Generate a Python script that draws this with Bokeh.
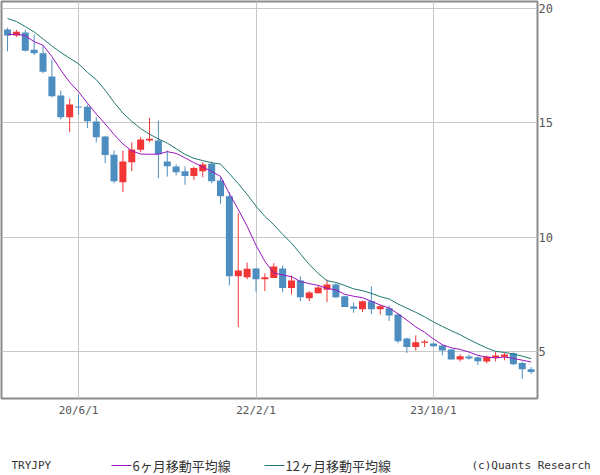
from bokeh.plotting import figure
from bokeh.models import Range1d, FixedTicker, ColumnDataSource
from bokeh.layouts import column
from bokeh.embed import file_html
from bokeh.resources import INLINE
from bokeh.core.properties import value
import pandas as pd

# ---- data (monthly TRYJPY candles, 2019/10 .. 2024/9) ----
months = [str(p) for p in pd.period_range("2019-10", periods=60, freq="M")]

opens = [19.08, 18.82, 18.95, 18.20, 18.05, 17.03, 16.20, 15.25, 15.72, 15.71,
         15.06, 14.40, 13.61, 12.40, 13.28, 13.82, 14.23, 14.23, 13.31, 13.09,
         12.88, 12.67, 12.88, 13.21, 12.48, 11.79, 8.29, 8.25, 8.63, 8.16,
         8.21, 8.63, 7.77, 8.10, 7.33, 7.55, 7.70, 7.93, 7.41, 6.97,
         6.84, 7.19, 6.84, 6.89, 6.62, 5.56, 5.19, 5.38, 5.35, 5.26,
         5.08, 4.65, 4.78, 4.74, 4.56, 4.71, 4.77, 4.92, 4.49, 4.22]
highs = [19.16, 19.07, 19.07, 18.85, 18.38, 17.77, 16.41, 16.05, 16.24, 15.80,
         15.25, 14.42, 13.79, 13.79, 14.15, 14.37, 15.22, 15.10, 13.79, 13.18,
         13.10, 13.09, 13.28, 13.31, 12.62, 11.97, 11.05, 8.89, 8.63, 8.42,
         8.86, 8.76, 8.32, 8.28, 7.64, 7.89, 8.14, 7.99, 7.41, 7.13,
         7.23, 7.84, 7.04, 7.01, 6.65, 5.60, 5.70, 5.51, 5.39, 5.31,
         5.10, 4.87, 4.87, 4.78, 4.82, 4.98, 4.93, 4.96, 4.56, 4.31]
lows = [18.13, 18.75, 18.12, 17.97, 17.17, 16.12, 15.15, 14.59, 15.35, 14.77,
        14.15, 13.24, 12.36, 11.97, 12.89, 13.72, 14.15, 12.58, 12.65, 12.70,
        12.29, 12.51, 12.62, 12.36, 11.46, 7.89, 6.06, 8.16, 7.62, 7.64,
        8.21, 7.59, 7.49, 7.20, 7.20, 7.55, 7.16, 7.33, 6.94, 6.69,
        6.72, 6.64, 6.62, 6.33, 5.36, 4.93, 5.04, 5.19, 5.19, 4.83,
        4.65, 4.56, 4.64, 4.40, 4.48, 4.56, 4.61, 4.41, 3.80, 4.01]
closes = [18.82, 18.99, 18.16, 18.05, 17.24, 16.16, 15.25, 15.80, 15.67, 15.07,
          14.37, 13.59, 12.45, 13.31, 13.83, 14.27, 14.30, 13.63, 13.10, 12.84,
          12.67, 13.02, 13.18, 12.45, 11.79, 8.29, 8.54, 8.62, 8.16, 8.25,
          8.72, 7.77, 8.10, 7.37, 7.58, 7.80, 7.93, 7.37, 6.94, 6.87,
          7.19, 6.84, 6.98, 6.57, 5.45, 5.19, 5.40, 5.43, 5.23, 5.04,
          4.65, 4.79, 4.69, 4.57, 4.77, 4.82, 4.87, 4.44, 4.22, 4.10]
# closes of the 11 months before the first candle (2018/11 .. 2019/9), estimated
# so that the moving averages start where the reference draws them
pre_closes = [20.6, 20.8, 20.9, 20.9, 19.8, 18.7, 18.8, 18.6, 19.6, 18.2, 19.1]

tick_months = ["2020-06", "2022-02", "2023-10"]
tick_labels = ["20/6/1", "22/2/1", "23/10/1"]
y_ticks = [5, 10, 15, 20]

symbol = "TRYJPY"
ma_labels = ["6ヶ月移動平均線", "12ヶ月移動平均線"]
credit = "(c)Quants Research"

# ---- styling ----
UP = "#f23535"
DOWN = "#4d8dc0"
MA6_COLOR = "#9a16bf"
MA12_COLOR = "#1f776f"
GRID = "#c8c8c8"
FRAME = "#8c8c8c"
MONO = "DejaVu Sans Mono"
CJK = "Noto Sans CJK JP"

idx = list(range(len(months)))
all_c = pre_closes + closes
npre = len(pre_closes)
ma6 = [sum(all_c[i + npre - 5:i + npre + 1]) / 6 for i in idx]
ma12 = [sum(all_c[i + npre - 11:i + npre + 1]) / 12 for i in idx]

colors = [UP if c >= o else DOWN for o, c in zip(opens, closes)]
src = ColumnDataSource(dict(
    x=idx,
    top=[max(o, c) for o, c in zip(opens, closes)],
    bottom=[min(o, c) for o, c in zip(opens, closes)],
    high=highs, low=lows, color=colors,
))

p = figure(width=600, height=430, output_backend="svg", toolbar_location=None,
           x_range=Range1d(-0.68, 59.72), y_range=Range1d(2.94, 20.31),
           y_axis_location="right",
           min_border_left=1, min_border_top=1, min_border_right=63,
           min_border_bottom=32)
p.background_fill_color = "white"
p.border_fill_color = "white"
p.outline_line_color = FRAME
p.outline_line_width = 2

tick_pos = [months.index(m) for m in tick_months]
p.xaxis.ticker = FixedTicker(ticks=tick_pos)
p.xaxis.major_label_overrides = {t: l for t, l in zip(tick_pos, tick_labels)}
p.yaxis.ticker = FixedTicker(ticks=y_ticks)
p.xgrid.ticker = FixedTicker(ticks=tick_pos)
p.ygrid.ticker = FixedTicker(ticks=y_ticks)
for g in (p.xgrid, p.ygrid):
    g.grid_line_color = GRID
    g.grid_line_width = 1

for ax in (p.xaxis, p.yaxis):
    ax.axis_line_color = None
    ax.major_tick_line_color = None
    ax.minor_tick_line_color = None
    ax.major_tick_out = 0
    ax.major_tick_in = 0
    ax.minor_tick_out = 0
    ax.major_label_text_font = MONO
    ax.major_label_text_color = "#555555"
p.xaxis.major_label_text_font_size = "11px"
p.yaxis.major_label_text_font_size = "12px"
p.xaxis.major_label_standoff = 5
p.yaxis.major_label_standoff = 1
p.yaxis.major_label_text_baseline = "top"

p.segment(x0="x", y0="low", x1="x", y1="high", source=src,
          line_color="color", line_width=1)
p.vbar(x="x", top="top", bottom="bottom", width=0.79, source=src,
       fill_color="color", line_color=None)
p.line(idx, ma12, line_color=MA12_COLOR, line_width=1)
p.line(idx, ma6, line_color=MA6_COLOR, line_width=1)

# ---- legend row ----
L = figure(frame_width=600, frame_height=45, output_backend="svg",
           toolbar_location=None,
           x_range=Range1d(0, 600), y_range=Range1d(45, 0),
           x_axis_location=None, y_axis_location=None,
           min_border=0, min_border_left=0, min_border_right=0,
           min_border_top=0, min_border_bottom=0)
L.outline_line_color = None
L.xgrid.visible = False
L.ygrid.visible = False
L.border_fill_color = "white"

ly = 35
L.text(x=[10], y=[ly], text=[symbol], text_font=value(MONO),
       text_font_size="11px", text_color="#333333", text_baseline="middle")
L.segment(x0=[110], y0=[ly], x1=[130], y1=[ly], line_color=MA6_COLOR, line_width=1)
L.text(x=[131], y=[ly], text=[ma_labels[0]], text_font=value(CJK),
       text_font_size="13px", text_color="#333333", text_baseline="middle")
L.segment(x0=[263], y0=[ly], x1=[283], y1=[ly], line_color=MA12_COLOR, line_width=1)
L.text(x=[284], y=[ly], text=[ma_labels[1]], text_font=value(CJK),
       text_font_size="13px", text_color="#333333", text_baseline="middle")
L.text(x=[470], y=[ly], text=[credit], text_font=value(MONO),
       text_font_size="11px", text_color="#333333", text_baseline="middle")

layout = column(p, L, spacing=0)
open("out.html", "w").write(file_html(layout, INLINE))
